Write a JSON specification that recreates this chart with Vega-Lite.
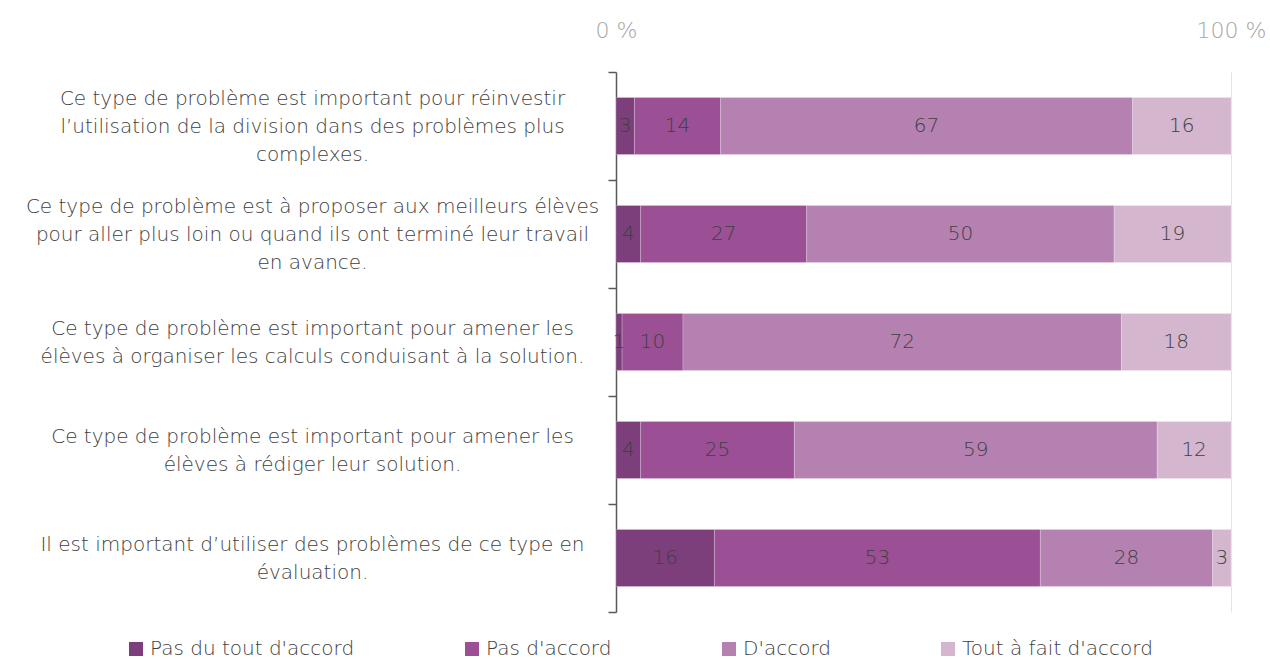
{
  "$schema": "https://vega.github.io/schema/vega-lite/v6.json",
  "width": 615,
  "height": 540,
  "autosize": {"type": "none"},
  "padding": {"left": 616, "top": 72, "right": 39, "bottom": 47},
  "background": "white",
  "config": {
    "view": {"stroke": null},
    "font": "DejaVu Sans"
  },
  "data": {
    "values": [
      {"q": "Ce type de problème est important pour réinvestir|l’utilisation de la division dans des problèmes plus|complexes.", "cat": "Pas du tout d'accord", "v": 3},
      {"q": "Ce type de problème est important pour réinvestir|l’utilisation de la division dans des problèmes plus|complexes.", "cat": "Pas d'accord", "v": 14},
      {"q": "Ce type de problème est important pour réinvestir|l’utilisation de la division dans des problèmes plus|complexes.", "cat": "D'accord", "v": 67},
      {"q": "Ce type de problème est important pour réinvestir|l’utilisation de la division dans des problèmes plus|complexes.", "cat": "Tout à fait d'accord", "v": 16},
      {"q": "Ce type de problème est à proposer aux meilleurs élèves|pour aller plus loin ou quand ils ont terminé leur travail|en avance.", "cat": "Pas du tout d'accord", "v": 4},
      {"q": "Ce type de problème est à proposer aux meilleurs élèves|pour aller plus loin ou quand ils ont terminé leur travail|en avance.", "cat": "Pas d'accord", "v": 27},
      {"q": "Ce type de problème est à proposer aux meilleurs élèves|pour aller plus loin ou quand ils ont terminé leur travail|en avance.", "cat": "D'accord", "v": 50},
      {"q": "Ce type de problème est à proposer aux meilleurs élèves|pour aller plus loin ou quand ils ont terminé leur travail|en avance.", "cat": "Tout à fait d'accord", "v": 19},
      {"q": "Ce type de problème est important pour amener les|élèves à organiser les calculs conduisant à la solution.", "cat": "Pas du tout d'accord", "v": 1},
      {"q": "Ce type de problème est important pour amener les|élèves à organiser les calculs conduisant à la solution.", "cat": "Pas d'accord", "v": 10},
      {"q": "Ce type de problème est important pour amener les|élèves à organiser les calculs conduisant à la solution.", "cat": "D'accord", "v": 72},
      {"q": "Ce type de problème est important pour amener les|élèves à organiser les calculs conduisant à la solution.", "cat": "Tout à fait d'accord", "v": 18},
      {"q": "Ce type de problème est important pour amener les|élèves à rédiger leur solution.", "cat": "Pas du tout d'accord", "v": 4},
      {"q": "Ce type de problème est important pour amener les|élèves à rédiger leur solution.", "cat": "Pas d'accord", "v": 25},
      {"q": "Ce type de problème est important pour amener les|élèves à rédiger leur solution.", "cat": "D'accord", "v": 59},
      {"q": "Ce type de problème est important pour amener les|élèves à rédiger leur solution.", "cat": "Tout à fait d'accord", "v": 12},
      {"q": "Il est important d’utiliser des problèmes de ce type en|évaluation.", "cat": "Pas du tout d'accord", "v": 16},
      {"q": "Il est important d’utiliser des problèmes de ce type en|évaluation.", "cat": "Pas d'accord", "v": 53},
      {"q": "Il est important d’utiliser des problèmes de ce type en|évaluation.", "cat": "D'accord", "v": 28},
      {"q": "Il est important d’utiliser des problèmes de ce type en|évaluation.", "cat": "Tout à fait d'accord", "v": 3}
    ]
  },
  "transform": [
    {"calculate": "indexof(['Pas du tout d\\'accord','Pas d\\'accord','D\\'accord','Tout à fait d\\'accord'], datum.cat)", "as": "ord"},
    {"stack": "v", "groupby": ["q"], "sort": [{"field": "ord", "order": "ascending"}], "offset": "normalize", "as": ["x0", "x1"]},
    {"calculate": "(datum.x0 + datum.x1) / 2", "as": "xm"}
  ],
  "encoding": {
    "y": {
      "field": "q",
      "type": "nominal",
      "sort": null,
      "scale": {"paddingInner": 0, "paddingOuter": 0},
      "axis": {
        "title": null,
        "labelExpr": "split(datum.label, '|')",
        "labelAlign": "center",
        "labelBaseline": "middle",
        "labelPadding": 296,
        "labelOffset": {
          "condition": {"test": "length(split(datum.value, '|')) == 3", "value": -28},
          "value": -14
        },
        "labelLimit": 0,
        "labelFontSize": 20,
        "labelFont": "DejaVu Sans",
        "labelFontWeight": 300,
        "labelColor": "#404040",
        "labelLineHeight": 28,
        "tickBand": "extent",
        "tickSize": 8,
        "tickColor": "#595959",
        "tickWidth": 1.5,
        "domainColor": "#595959",
        "domainWidth": 1.5
      }
    }
  },
  "layer": [
    {
      "mark": {"type": "bar", "height": 57, "stroke": "white", "strokeWidth": 0.6, "strokeOpacity": 0.35},
      "encoding": {
        "x": {
          "field": "x0",
          "type": "quantitative",
          "scale": {"domain": [0, 1], "nice": false},
          "axis": {
            "orient": "top",
            "title": null,
            "values": [0, 1],
            "labelExpr": "(datum.value * 100) + ' %'",
            "labelFlush": false,
            "labelFontSize": 22,
            "labelFont": "DejaVu Sans",
            "labelFontWeight": 300,
            "labelColor": "#a6a6a6",
            "labelPadding": 30,
            "domain": false,
            "ticks": false,
            "grid": true,
            "gridColor": "#e4e4e4",
            "gridWidth": 1,
            "zindex": 0
          }
        },
        "x2": {"field": "x1"},
        "color": {
          "field": "cat",
          "type": "nominal",
          "scale": {
            "domain": ["Pas du tout d'accord", "Pas d'accord", "D'accord", "Tout à fait d'accord"],
            "range": ["#7d3f7b", "#9b4f94", "#b581b1", "#d4b6cf"]
          },
          "legend": {
            "title": null,
            "orient": "none",
            "direction": "horizontal",
            "legendX": -490,
            "legendY": 567,
            "symbolType": "square",
            "symbolSize": 196,
            "symbolStrokeWidth": 0,
            "labelFontSize": 20,
            "labelFont": "DejaVu Sans",
            "labelFontWeight": 300,
            "labelColor": "#404040",
            "labelOffset": 4,
            "columnPadding": 107,
            "labelLimit": 0
          }
        }
      }
    },
    {
      "mark": {"type": "text", "fontSize": 20, "font": "DejaVu Sans", "fontWeight": 300, "color": "#404040", "align": "center", "baseline": "middle"},
      "encoding": {
        "x": {"field": "xm", "type": "quantitative"},
        "text": {"field": "v", "type": "quantitative"}
      }
    }
  ]
}
